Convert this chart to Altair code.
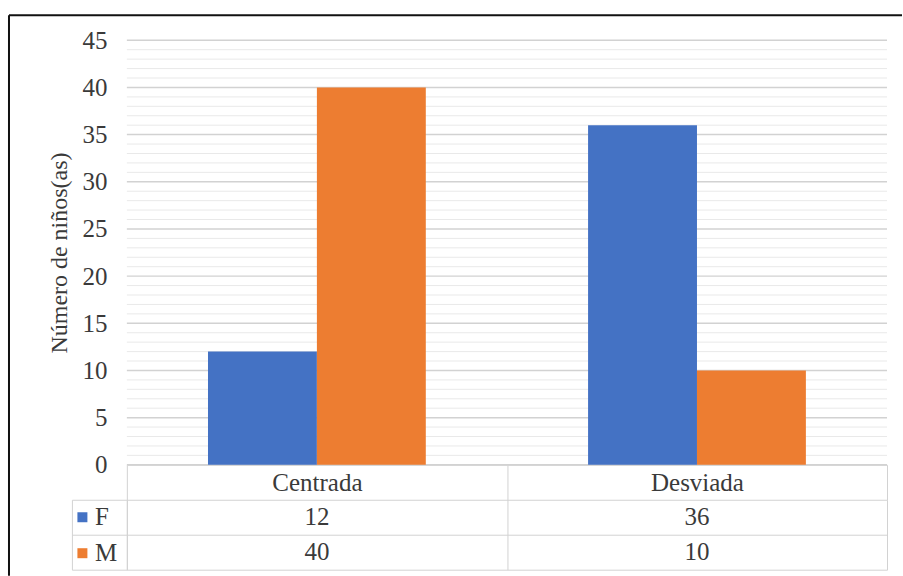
import altair as alt
import pandas as pd

# --- data -------------------------------------------------------------
categories = ["Centrada", "Desviada"]
series = ["F", "M"]
f_values = [12, 36]
m_values = [40, 10]

y_labels = [0, 5, 10, 15, 20, 25, 30, 35, 40, 45]
y_minor = [v for v in range(0, 46) if v % 5]

colors = ["#4472C4", "#ED7D31"]

rows = []
for cat, f, m in zip(categories, f_values, m_values):
    rows.append({"cat": cat, "serie": "F", "n": f})
    rows.append({"cat": cat, "serie": "M", "n": m})
df = pd.DataFrame(rows)

# --- style ------------------------------------------------------------
FONT = "Liberation Serif"
FS = 25
TXT = "#3a3a3a"
LINE = "#d2d2d2"
MINOR = "#e9e9e9"
W, H = 761, 425
ROW_H = 35
NO_VIEW = alt.ViewBackground(stroke="transparent", strokeWidth=0)

y_scale = alt.Scale(domain=[0, 45], nice=False, zero=True)
x_scale = alt.Scale(domain=categories, paddingInner=0, paddingOuter=0)

y_axis = alt.Axis(
    values=y_labels,
    grid=False,
    domain=False,
    ticks=False,
    labelFont=FONT,
    labelFontSize=FS,
    labelColor=TXT,
    labelPadding=20,
    title="Número de niños(as)",
    titleFont=FONT,
    titleFontSize=24,
    titleFontWeight="normal",
    titleColor=TXT,
    titlePadding=10,
)

# --- bar chart --------------------------------------------------------
minor_rules = alt.Chart(pd.DataFrame({"v": y_minor})).mark_rule(
    color=MINOR, strokeWidth=1
).encode(y=alt.Y("v:Q", scale=y_scale, axis=y_axis))

major_rules = alt.Chart(pd.DataFrame({"v": y_labels})).mark_rule(
    color=LINE, strokeWidth=1.5
).encode(y=alt.Y("v:Q", scale=y_scale, axis=y_axis))

bars = alt.Chart(df).mark_bar().encode(
    x=alt.X(
        "cat:N",
        sort=categories,
        scale=x_scale,
        axis=alt.Axis(
            title=None,
            orient="bottom",
            labelAngle=0,
            labelFont=FONT,
            labelFontSize=FS,
            labelColor=TXT,
            labelBaseline="middle",
            labelPadding=-ROW_H / 2,
            domainColor=LINE,
            domainWidth=1,
            tickColor=LINE,
            tickSize=ROW_H,
            tickBand="extent",
            grid=False,
        ),
    ),
    xOffset=alt.XOffset(
        "serie:N", sort=series, scale=alt.Scale(paddingInner=0, paddingOuter=0.745)
    ),
    y=alt.Y("n:Q", scale=y_scale, axis=y_axis),
    color=alt.Color(
        "serie:N",
        sort=series,
        scale=alt.Scale(domain=series, range=colors),
        legend=alt.Legend(
            title=None,
            orient="none",
            legendX=-57,
            legendY=H + ROW_H + 5,
            symbolType="square",
            symbolSize=100,
            symbolStrokeWidth=0,
            labelFont=FONT,
            labelFontSize=FS,
            labelColor=TXT,
            labelOffset=0,
            rowPadding=10,
        ),
    ),
)

one = pd.DataFrame({"k": [0]})
frame_top = alt.Chart(one).mark_rule(color="#111111", strokeWidth=2).encode(
    x=alt.value(-118), x2=alt.value(776), y=alt.value(-25)
)
frame_left = alt.Chart(one).mark_rule(color="#111111", strokeWidth=2).encode(
    x=alt.value(-118), y=alt.value(-25), y2=alt.value(536)
)

bar_chart = alt.layer(
    minor_rules, major_rules, bars, frame_top, frame_left
).properties(width=W, height=H, view=NO_VIEW)

# --- data table below the bars ---------------------------------------
t_x = alt.X(
    "cat:N",
    sort=categories,
    scale=x_scale,
    axis=alt.Axis(
        title=None, labels=False, ticks=False, domain=False,
        grid=True, gridColor=LINE, tickBand="extent",
    ),
)

cells = alt.Chart(df).mark_text(
    font=FONT, fontSize=FS, color=TXT, baseline="middle", align="center"
).encode(
    x=t_x,
    y=alt.Y(
        "serie:N",
        sort=series,
        scale=alt.Scale(domain=series, paddingInner=0, paddingOuter=0),
        axis=alt.Axis(
            title=None, labels=False, ticks=True, tickSize=55, tickColor=LINE,
            tickBand="extent", domain=True, domainColor=LINE,
            grid=True, gridColor=LINE,
        ),
    ),
    text="n:Q",
)

left_edge = alt.Chart(df).mark_text(opacity=0).encode(
    x=t_x,
    y=alt.Y(
        "serie:N",
        sort=series,
        scale=alt.Scale(domain=series, paddingInner=0, paddingOuter=0),
        axis=alt.Axis(
            orient="left", offset=55, title=None, labels=False, ticks=False,
            grid=False, domain=True, domainColor=LINE,
        ),
    ),
    text="n:Q",
)

table = alt.layer(cells, left_edge).resolve_axis(y="independent").properties(
    width=W, height=2 * ROW_H, view=NO_VIEW
)

chart = (
    alt.vconcat(bar_chart, table, spacing=ROW_H, bounds="flush")
    .properties(padding={"left": 8, "top": 14, "right": 0, "bottom": 0})
    .configure_view(stroke="transparent", strokeWidth=0)
    .configure_axis(titleFont=FONT, labelFont=FONT)
    .configure_axisLeft(titleFont=FONT)
    .configure(
        background="white",
        font=FONT,
        style={"guide-title": {"font": FONT}},
    )
)

chart.save("out.html", embed_options={"renderer": "svg", "actions": False})
